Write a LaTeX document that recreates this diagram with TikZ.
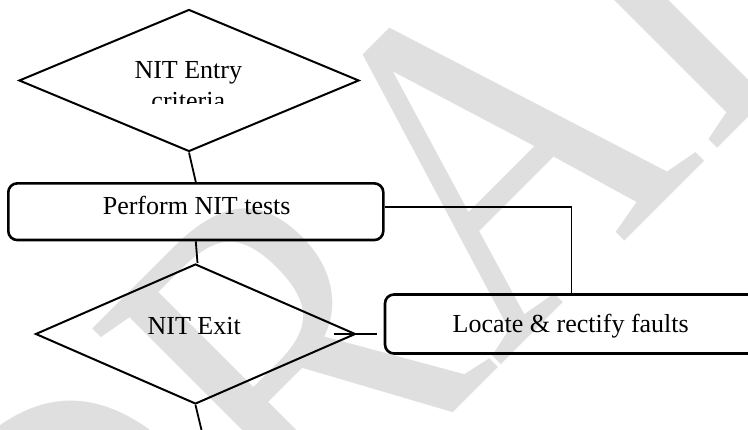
\documentclass[tikz,border=0pt]{standalone}
\usepackage{fontspec}
\usepackage{graphicx}
\setmainfont{Liberation Serif}
\usetikzlibrary{shapes.geometric}

\definecolor{wmgray}{RGB}{223,223,223}

\tikzset{
  decision/.style={draw, diamond, line width=2pt, inner sep=0pt},
  stepbox/.style={draw, rectangle, rounded corners=9pt, line width=2.6pt, inner sep=0pt},
  link/.style={draw, line width=1.8pt},
  label/.style={font=\fontsize{26}{30}\selectfont, inner sep=0pt, anchor=base},
  watermark/.style={text=wmgray, font=\fontsize{480}{480}\selectfont, inner sep=0pt, anchor=base west, rotate=45}
}

\begin{document}
\begin{tikzpicture}[x=1pt, y=-1pt]
  \useasboundingbox (0,0) rectangle (748,430);

  % background watermark
  \node[watermark] (wm) at (98,768) {\scalebox{0.85}[1]{DRAFT}};

  % shapes
  \node[decision, minimum width=340pt, minimum height=142pt] (entry) at (189,80.5) {};
  \node[stepbox, minimum width=375pt, minimum height=56.7pt] (perform) at (195.8,211.7) {};
  \node[decision, minimum width=320pt, minimum height=140pt] (exit) at (195.5,334) {};
  \node[stepbox, minimum width=373pt, minimum height=59pt] (locate) at (571.5,324) {};

  % texts
  \node[label] (entrytxt) at (188.3,79) {NIT Entry};
  \begin{scope}
    \clip (0,0) rectangle (748,104);
    \node[label] (crittxt) at (188.3,110) {criteria};
  \end{scope}
  \node[label] (performtxt) at (196.7,215) {Perform NIT tests};
  \node[label] (exittxt) at (194.2,334.3) {NIT Exit};
  \node[label] (locatetxt) at (570.7,332.7) {Locate \& rectify faults};

  % connectors
  \coordinate (down) at (201.5,430);
  \draw[link] (entry.south) -- (perform.north);
  \draw[link] (perform.south) -- ([xshift=2pt]exit.north);
  \draw[link] (exit.south) -- (down);
  \draw[link] ([xshift=-23pt]exit.east) -- ([xshift=-7pt]exit.east -| locate.west);
  \draw[link] ([yshift=5pt]perform.east) -| (locate.north);
\end{tikzpicture}
\end{document}
